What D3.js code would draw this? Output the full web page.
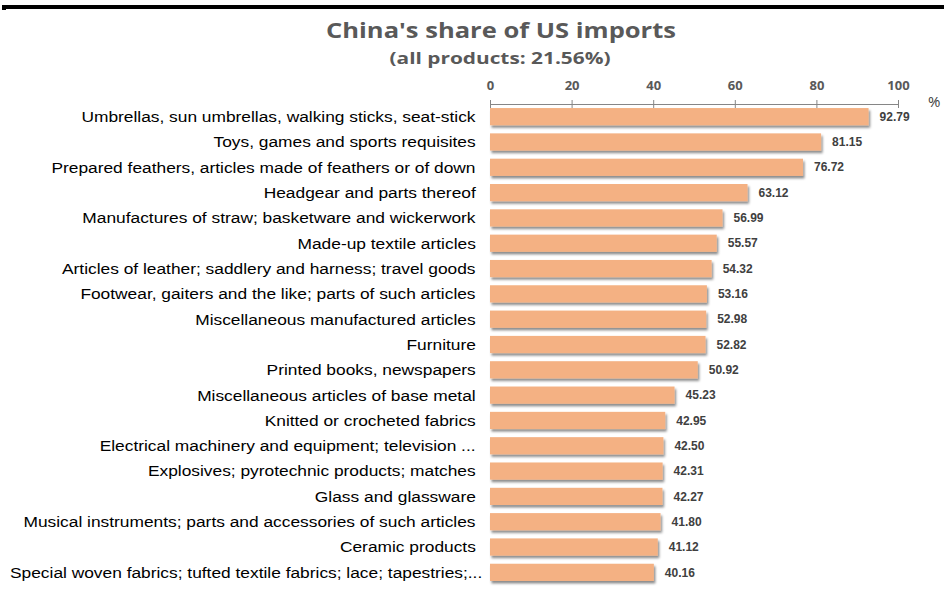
<!DOCTYPE html>
<html>
<head>
<meta charset="utf-8">
<script src="https://cdn.jsdelivr.net/npm/d3@7"></script>
<style>
  html, body { margin: 0; padding: 0; background: #fff; }
  svg { display: block; }
</style>
</head>
<body>
<svg id="chart" width="944" height="591"></svg>
<script>
// Product groups, sorted by China's share of US imports (%)
const categories = [
  "Umbrellas, sun umbrellas, walking sticks, seat-stick",
  "Toys, games and sports requisites",
  "Prepared feathers, articles made of feathers or of down",
  "Headgear and parts thereof",
  "Manufactures of straw; basketware and wickerwork",
  "Made-up textile articles",
  "Articles of leather; saddlery and harness; travel goods",
  "Footwear, gaiters and the like; parts of such articles",
  "Miscellaneous manufactured articles",
  "Furniture",
  "Printed books, newspapers",
  "Miscellaneous articles of base metal",
  "Knitted or crocheted fabrics",
  "Electrical machinery and equipment; television ...",
  "Explosives; pyrotechnic products; matches",
  "Glass and glassware",
  "Musical instruments; parts and accessories of such articles",
  "Ceramic products",
  "Special woven fabrics; tufted textile fabrics; lace; tapestries;..."
];
const shares = [92.79, 81.15, 76.72, 63.12, 56.99, 55.57, 54.32, 53.16, 52.98, 52.82,
                50.92, 45.23, 42.95, 42.50, 42.31, 42.27, 41.80, 41.12, 40.16];
const tickValues = [0, 20, 40, 60, 80, 100];
const titleText = "China's share of US imports";
const subtitleText = "(all products: 21.56%)";
const unitText = "%";

const svg = d3.select("#chart");
const W = 944, H = 591;

// top rule
svg.append("rect").attr("x", 2).attr("y", 5).attr("width", W - 2).attr("height", 4).attr("fill", "#000");
svg.append("rect").attr("x", 2).attr("y", 5).attr("width", 4).attr("height", 5).attr("fill", "#000");

const x = d3.scaleLinear().domain([0, 100]).range([490, 898]);
const y = d3.scaleBand().domain(categories).range([104, 585]).paddingInner(0.32).paddingOuter(0.16);

// soft drop shadow under the bars
const defs = svg.append("defs");
const f = defs.append("filter").attr("id", "shadow").attr("x", "-5%").attr("y", "-30%").attr("width", "115%").attr("height", "190%");
f.append("feDropShadow").attr("dx", 1.5).attr("dy", 2.5).attr("stdDeviation", 1.3)
  .attr("flood-color", "#000").attr("flood-opacity", 0.45);

// titles
svg.append("text").attr("x", 501).attr("y", 38).attr("text-anchor", "middle")
  .attr("font-family", "'Open Sans', sans-serif").attr("font-weight", "bold").attr("font-size", 21)
  .attr("textLength", 350).attr("lengthAdjust", "spacingAndGlyphs")
  .attr("fill", "#595959").text(titleText);
svg.append("text").attr("x", 500).attr("y", 64).attr("text-anchor", "middle")
  .attr("font-family", "'Open Sans', sans-serif").attr("font-weight", "bold").attr("font-size", 16)
  .attr("textLength", 221).attr("lengthAdjust", "spacingAndGlyphs")
  .attr("fill", "#595959").text(subtitleText);

// top axis
const axis = d3.axisTop(x).tickValues(tickValues).tickSize(4).tickSizeOuter(0).tickPadding(10);
const gAxis = svg.append("g").attr("transform", "translate(0,104)").call(axis);
gAxis.select(".domain").attr("stroke", "#868686");
gAxis.selectAll(".tick line").attr("stroke", "#868686").attr("y2", 4).attr("y1", -4);
gAxis.selectAll(".tick text").attr("font-family", "'Open Sans', sans-serif").attr("font-weight", "bold")
  .attr("font-size", 13).attr("fill", "#595959");

svg.append("text").attr("x", 928).attr("y", 107)
  .attr("font-family", "'Open Sans', sans-serif").attr("font-size", 15).attr("fill", "#404040").text(unitText);

// bars
svg.append("g").selectAll("rect").data(shares).join("rect")
  .attr("x", x(0))
  .attr("y", (d, i) => y(categories[i]))
  .attr("width", d => x(d) - x(0))
  .attr("height", y.bandwidth())
  .attr("fill", "#F4B183")
  .attr("filter", "url(#shadow)");

// category labels, slightly widened; overly long ones slide right to stay in view
const labelRight = 476, labelStretch = 1.12, minLeft = 10;
svg.append("g").selectAll("text").data(categories).join("text")
  .attr("y", d => y(d) + y.bandwidth() / 2)
  .attr("dy", "0.35em")
  .attr("text-anchor", "start")
  .attr("font-family", "'Liberation Sans', Arial, sans-serif")
  .attr("font-size", 15.5)
  .attr("fill", "#000")
  .text(d => d)
  .each(function () {
    const w = this.getComputedTextLength() * labelStretch;
    const left = Math.max(minLeft, labelRight - w);
    d3.select(this).attr("transform", `translate(${left},0) scale(${labelStretch},1)`).attr("x", 0);
  });

// value labels
svg.append("g").selectAll("text").data(shares).join("text")
  .attr("x", d => x(d) + 11)
  .attr("y", (d, i) => y(categories[i]) + y.bandwidth() / 2)
  .attr("dy", "0.35em")
  .attr("font-family", "'Liberation Sans', Arial, sans-serif")
  .attr("font-weight", "bold")
  .attr("font-size", 12)
  .attr("fill", "#404040")
  .text(d => d.toFixed(2));
</script>
</body>
</html>
